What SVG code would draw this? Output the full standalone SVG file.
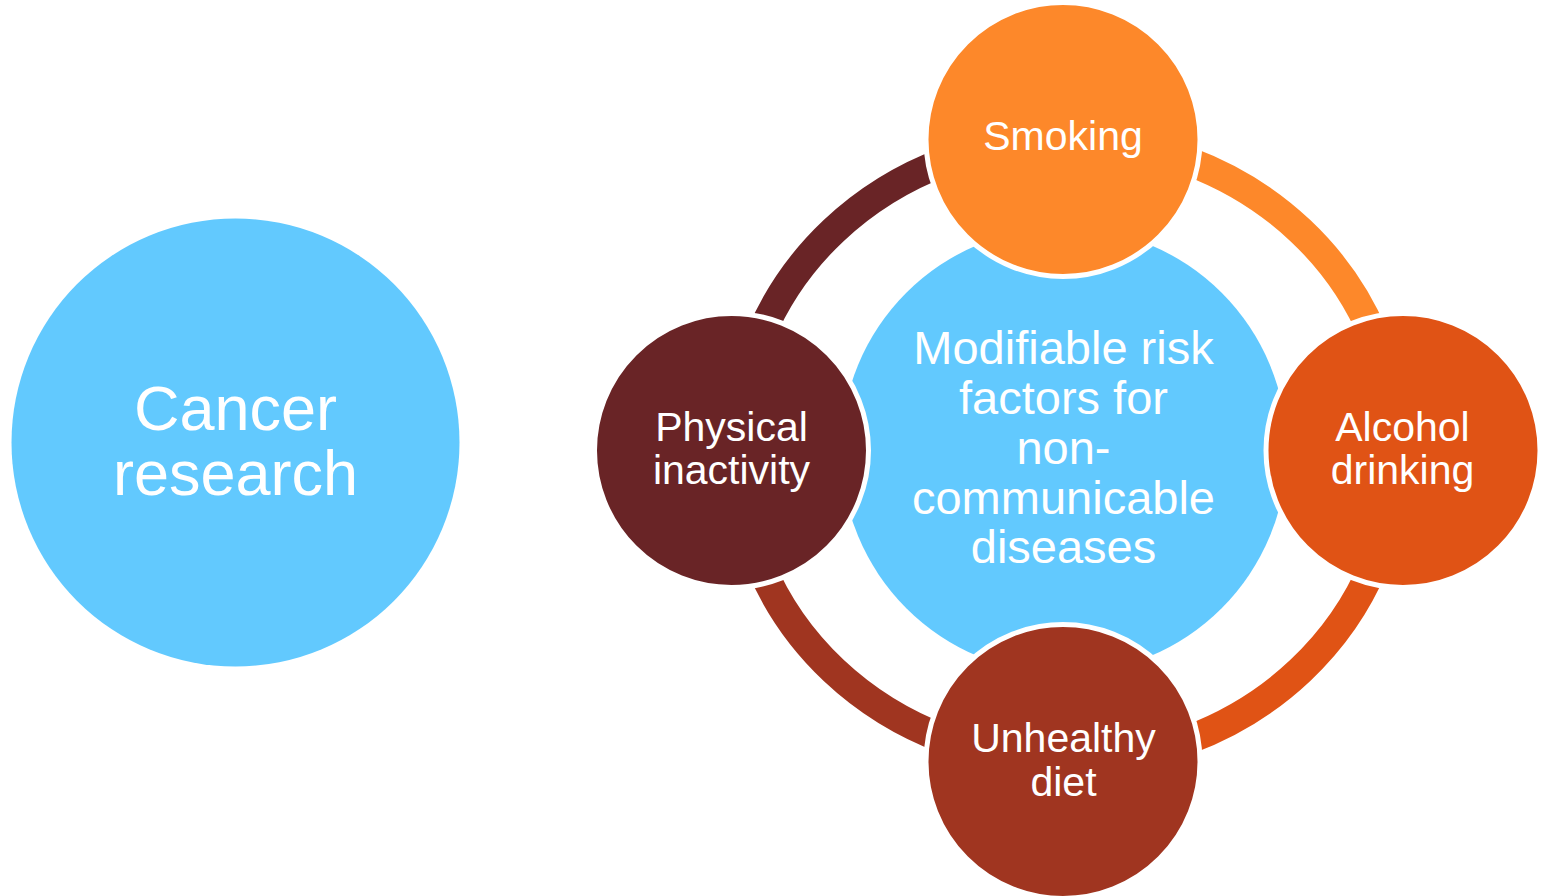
<svg xmlns="http://www.w3.org/2000/svg" width="1543" height="896" viewBox="0 0 1543 896">
  <style>
    .lbl { font-family: "Liberation Sans", Arial, sans-serif; fill: #FFFFFF; text-anchor: middle; }
    .big { font-size: 63px; }
    .mid { font-size: 47px; }
    .sm { font-size: 41px; }
    .arc { fill: none; stroke-width: 29; }
    .node { stroke: #FFFFFF; stroke-width: 5; }
  </style>
  <rect width="1543" height="896" fill="#FFFFFF"/>

  <g id="cancer-research">
    <circle cx="235.5" cy="442.5" r="224" fill="#62C9FE"/>
    <text class="lbl big" x="235.5" y="430">Cancer</text>
    <text class="lbl big" x="235.5" y="495">research</text>
  </g>

  <g id="center">
    <circle cx="1064" cy="450.5" r="223" fill="#62C9FE"/>
  </g>

  <g id="connectors">
    <path class="arc" stroke="#FD882A" d="M 1067 139.5 A 330 311 0 0 1 1397 450.5"/>
    <path class="arc" stroke="#E05315" d="M 1397 450.5 A 330 311 0 0 1 1067 761.5"/>
    <path class="arc" stroke="#A03520" d="M 1067 761.5 A 330 311 0 0 1 737 450.5"/>
    <path class="arc" stroke="#692426" d="M 737 450.5 A 330 311 0 0 1 1067 139.5"/>
  </g>

  <g id="smoking">
    <circle class="node" cx="1063" cy="139.5" r="137" fill="#FD882A"/>
    <text class="lbl sm" x="1063" y="150">Smoking</text>
  </g>

  <g id="alcohol-drinking">
    <circle class="node" cx="1403" cy="450.5" r="137" fill="#E05315"/>
    <text class="lbl sm" x="1402.5" y="440.5">Alcohol</text>
    <text class="lbl sm" x="1402.5" y="483.5">drinking</text>
  </g>

  <g id="unhealthy-diet">
    <circle class="node" cx="1063" cy="761.5" r="137" fill="#A03520"/>
    <text class="lbl sm" x="1063.5" y="751.5">Unhealthy</text>
    <text class="lbl sm" x="1063.5" y="795.5">diet</text>
  </g>

  <g id="physical-inactivity">
    <circle class="node" cx="731.5" cy="450.5" r="137" fill="#692426"/>
    <text class="lbl sm" x="731.5" y="440.5">Physical</text>
    <text class="lbl sm" x="731.5" y="483.5">inactivity</text>
  </g>

  <g id="center-label">
    <text class="lbl mid" x="1063.5" y="364">Modifiable risk</text>
    <text class="lbl mid" x="1063.5" y="414">factors for</text>
    <text class="lbl mid" x="1063.5" y="464">non-</text>
    <text class="lbl mid" x="1063.5" y="514">communicable</text>
    <text class="lbl mid" x="1063.5" y="563">diseases</text>
  </g>
</svg>
